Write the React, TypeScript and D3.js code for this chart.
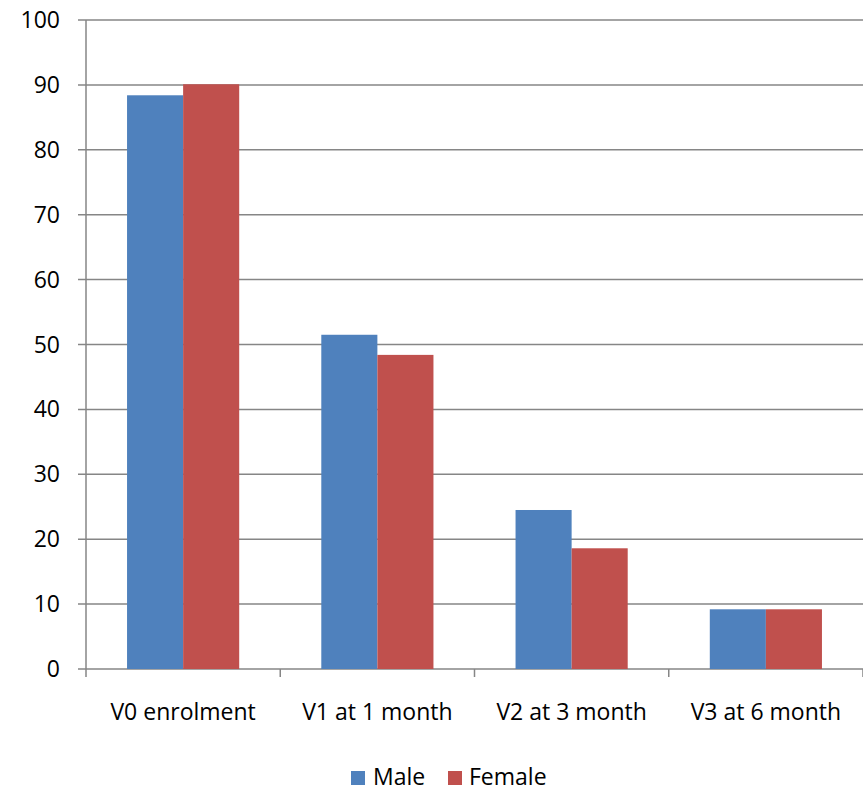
import React from "react";
import * as d3 from "d3";

const categories = ["V0 enrolment", "V1 at 1 month", "V2 at 3 month", "V3 at 6 month"];
const seriesNames = ["Male", "Female"];
const maleValues = [88.4, 51.5, 24.5, 9.2];
const femaleValues = [90.1, 48.4, 18.6, 9.2];
const yTicks = [0, 10, 20, 30, 40, 50, 60, 70, 80, 90, 100];
const colors = ["#4F81BD", "#C0504D"];

const W = 863;
const H = 792;
const left = 86;
const right = 863;
const top = 20;
const bottom = 669;
const font = "'Open Sans', 'Liberation Sans', sans-serif";
const fs = 23;

export default function App() {
  const x = d3.scaleBand<string>().domain(categories).range([left, right]).paddingInner(0).paddingOuter(0);
  const bw = x.bandwidth();
  const inner = d3.scaleBand<string>().domain(seriesNames).range([0, bw]).paddingOuter(0.732).paddingInner(0);
  const y = d3.scaleLinear().domain([0, 100]).range([bottom, top]);
  const series = [maleValues, femaleValues];
  return (
    <svg width={W} height={H} style={{ position: "absolute", left: 0, top: 0, background: "#fff" }} fontFamily={font}>
      {yTicks.map((t) => (
        <g key={t}>
          <line x1={left - 8} x2={right} y1={y(t)} y2={y(t)} stroke="#868686" strokeWidth={1.5} />
          <text x={60} y={y(t) + 8} textAnchor="end" fontSize={fs} fill="#000">{t}</text>
        </g>
      ))}
      {series.map((vals, si) =>
        categories.map((c, ci) => (
          <rect
            key={si + "-" + ci}
            x={(x(c) as number) + (inner(seriesNames[si]) as number)}
            y={y(vals[ci])}
            width={inner.bandwidth()}
            height={bottom - y(vals[ci])}
            fill={colors[si]}
          />
        ))
      )}
      <line x1={left} x2={left} y1={top} y2={bottom} stroke="#868686" strokeWidth={1.5} />
      {[...categories.map((c) => x(c) as number), right].map((px, i) => (
        <line key={i} x1={px} x2={px} y1={bottom} y2={bottom + 8} stroke="#868686" strokeWidth={1.5} />
      ))}
      {categories.map((c) => (
        <text key={c} x={(x(c) as number) + bw / 2} y={720} textAnchor="middle" fontSize={fs} fill="#000">{c}</text>
      ))}
      <g>
        <rect x={351} y={771} width={14} height={14} fill={colors[0]} />
        <text x={373} y={785} fontSize={fs} fill="#000">{seriesNames[0]}</text>
        <rect x={448} y={771} width={14} height={14} fill={colors[1]} />
        <text x={469} y={785} fontSize={fs} fill="#000">{seriesNames[1]}</text>
      </g>
    </svg>
  );
}
